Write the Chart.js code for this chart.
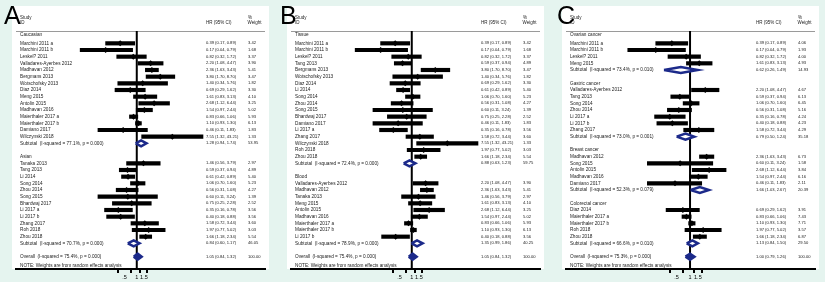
<!DOCTYPE html>
<html>
<head>
<meta charset="utf-8">
<script src="https://cdn.jsdelivr.net/npm/chart.js@4"></script>
<style>
  html, body { margin: 0; padding: 0; background: #e5f4ef; }
  body { width: 825px; height: 282px; position: relative; overflow: hidden;
         font-family: "Liberation Sans", Arial, sans-serif; }
  .panel { position: absolute; top: 0; width: 257px; height: 282px; }
  .tag { position: absolute; top: 0; font-size: 25px; line-height: 30px; color: #000; z-index: 2; }
</style>
</head>
<body>
<div class="panel" style="left:12px"><canvas id="forestA" width="257" height="282"></canvas></div>
<div class="panel" style="left:287px"><canvas id="forestB" width="257" height="282"></canvas></div>
<div class="panel" style="left:562px"><canvas id="forestC" width="257" height="282"></canvas></div>
<div class="tag" style="left:4px">A</div>
<div class="tag" style="left:280px">B</div>
<div class="tag" style="left:557px">C</div>

<script>
/* ---- data: A = by ethnicity, B = by sample, C = by cancer type ---- */
var aLabels = ['Caucasian', 'Marchini 2011 a', 'Marchini 2011 b', 'Leskel? 2011', 'Valladares-Ayerbes 2012',
  'Madhavan 2012', 'Bergmans 2013', 'Wotschofsky 2013', 'Diaz 2014', 'Meng 2015', 'Antolin 2015',
  'Madhavan 2016', 'Maierthaler 2017 a', 'Maierthaler 2017 b', 'Damiano 2017', 'Wilczynski 2018',
  'Subtotal  (I-squared = 77.1%, p = 0.000)', '', 'Asian', 'Tanaka 2013', 'Tang 2013', 'Li 2014',
  'Song 2014', 'Zhou 2014', 'Song 2015', 'Bhardwaj 2017', 'Li 2017 a', 'Li 2017 b', 'Zhang 2017',
  'Roh 2018', 'Zhou 2018', 'Subtotal  (I-squared = 70.7%, p = 0.000)', '',
  'Overall  (I-squared = 75.4%, p = 0.000)', 'NOTE: Weights are from random effects analysis'];
var aHR = [null, 0.39, 0.17, 0.82, 2.20, 2.36, 3.80, 1.40, 0.69, 1.61, 2.68, 1.54, 0.83, 1.10, 0.46, 7.55,
  1.28, null, null, 1.46, 0.59, 0.61, 1.06, 0.56, 0.60, 0.75, 0.35, 0.40, 1.58, 1.97, 1.66, 0.84, null, 1.05, null];
var aLow = [null, 0.17, 0.04, 0.32, 1.08, 1.63, 1.70, 0.34, 0.29, 0.83, 1.12, 0.97, 0.66, 0.93, 0.11, 1.32,
  0.94, null, null, 0.56, 0.37, 0.42, 0.70, 0.31, 0.11, 0.25, 0.16, 0.18, 0.72, 0.77, 1.18, 0.60, null, 0.84, null];
var aHigh = [null, 0.89, 0.79, 1.72, 4.47, 3.43, 8.70, 5.76, 1.62, 3.13, 6.44, 2.44, 1.06, 1.30, 1.83, 43.21,
  1.74, null, null, 3.79, 0.94, 0.89, 1.60, 1.08, 3.24, 2.28, 0.78, 0.88, 3.44, 5.02, 2.34, 1.17, null, 1.32, null];
var aWeight = [null, 3.42, 1.68, 3.37, 3.90, 5.41, 3.47, 1.82, 3.30, 4.10, 3.25, 5.02, 5.93, 6.13, 1.83, 1.33,
  53.95, null, null, 2.97, 4.89, 5.40, 5.23, 4.27, 1.39, 2.52, 3.56, 3.56, 3.60, 3.03, 5.54, 46.05, null, 100.00, null];

var bLabels = ['Tissue', 'Marchini 2011 a', 'Marchini 2011 b', 'Leskel? 2011', 'Tang 2013', 'Bergmans 2013',
  'Wotschofsky 2013', 'Diaz 2014', 'Li 2014', 'Song 2014', 'Zhou 2014', 'Song 2015', 'Bhardwaj 2017',
  'Damiano 2017', 'Li 2017 a', 'Zhang 2017', 'Wilczynski 2018', 'Roh 2018', 'Zhou 2018',
  'Subtotal  (I-squared = 72.4%, p = 0.000)', '', 'Blood', 'Valladares-Ayerbes 2012', 'Madhavan 2012',
  'Tanaka 2013', 'Meng 2015', 'Antolin 2015', 'Madhavan 2016', 'Maierthaler 2017 a', 'Maierthaler 2017 b',
  'Li 2017 b', 'Subtotal  (I-squared = 78.9%, p = 0.000)', '',
  'Overall  (I-squared = 75.4%, p = 0.000)', 'NOTE: Weights are from random effects analysis'];
var bHR = [null, 0.39, 0.17, 0.82, 0.59, 3.80, 1.40, 0.69, 0.61, 1.06, 0.56, 0.60, 0.75, 0.46, 0.35, 1.58, 7.55,
  1.97, 1.66, 0.88, null, null, 2.20, 2.36, 1.46, 1.61, 2.68, 1.54, 0.83, 1.10, 0.40, 1.35, null, 1.05, null];
var bLow = [null, 0.17, 0.04, 0.32, 0.37, 1.70, 0.34, 0.29, 0.42, 0.70, 0.31, 0.11, 0.25, 0.11, 0.16, 0.72, 1.32,
  0.77, 1.18, 0.63, null, null, 1.08, 1.63, 0.56, 0.83, 1.12, 0.97, 0.66, 0.93, 0.18, 0.99, null, 0.84, null];
var bHigh = [null, 0.89, 0.79, 1.72, 0.94, 8.70, 5.76, 1.62, 0.89, 1.60, 1.08, 3.24, 2.28, 1.83, 0.78, 3.44, 43.21,
  5.02, 2.34, 1.23, null, null, 4.47, 3.43, 3.79, 3.13, 6.44, 2.44, 1.06, 1.30, 0.88, 1.86, null, 1.32, null];
var bWeight = [null, 3.42, 1.68, 3.37, 4.89, 3.47, 1.82, 3.30, 5.40, 5.23, 4.27, 1.39, 2.52, 1.83, 3.56, 3.60, 1.33,
  3.03, 5.54, 59.75, null, null, 3.90, 5.41, 2.97, 4.10, 3.25, 5.02, 5.93, 6.13, 3.56, 40.25, null, 100.00, null];

var cLabels = ['Ovarian cancer', 'Marchini 2011 a', 'Marchini 2011 b', 'Leskel? 2011', 'Meng 2015',
  'Subtotal  (I-squared = 73.4%, p = 0.010)', '', 'Gastric cancer', 'Valladares-Ayerbes 2012', 'Tang 2013',
  'Song 2014', 'Zhou 2014', 'Li 2017 a', 'Li 2017 b', 'Zhang 2017', 'Subtotal  (I-squared = 73.0%, p = 0.001)', '',
  'Breast cancer', 'Madhavan 2012', 'Song 2015', 'Antolin 2015', 'Madhavan 2016', 'Damiano 2017',
  'Subtotal  (I-squared = 52.3%, p = 0.079)', '', 'Colorectal cancer', 'Diaz 2014', 'Maierthaler 2017 a',
  'Maierthaler 2017 b', 'Roh 2018', 'Zhou 2018', 'Subtotal  (I-squared = 66.6%, p = 0.010)', '',
  'Overall  (I-squared = 75.3%, p = 0.000)', 'NOTE: Weights are from random effects analysis'];
var cHR = [null, 0.39, 0.17, 0.82, 1.61, 0.62, null, null, 2.20, 0.59, 1.06, 0.56, 0.35, 0.40, 1.58, 0.79, null,
  null, 2.36, 0.60, 2.68, 1.54, 0.46, 1.66, null, null, 0.69, 0.83, 1.10, 1.97, 1.66, 1.13, null, 1.00, null];
var cLow = [null, 0.17, 0.04, 0.32, 0.83, 0.26, null, null, 1.08, 0.37, 0.70, 0.31, 0.16, 0.18, 0.72, 0.50, null,
  null, 1.63, 0.11, 1.12, 0.97, 0.11, 1.03, null, null, 0.29, 0.66, 0.93, 0.77, 1.18, 0.84, null, 0.79, null];
var cHigh = [null, 0.89, 0.79, 1.72, 3.13, 1.49, null, null, 4.47, 0.94, 1.60, 1.08, 0.78, 0.88, 3.44, 1.24, null,
  null, 3.43, 3.24, 6.44, 2.44, 1.83, 2.67, null, null, 1.62, 1.06, 1.30, 5.02, 2.34, 1.50, null, 1.26, null];
var cWeight = [null, 4.06, 1.93, 4.00, 4.93, 14.93, null, null, 4.67, 6.13, 6.45, 5.16, 4.24, 4.23, 4.29, 35.18, null,
  null, 6.73, 1.58, 3.84, 6.16, 2.11, 20.39, null, null, 3.91, 7.43, 7.71, 3.57, 6.87, 29.50, null, 100.00, null];

var xTicks = [0.5, 1, 1.5];
var xTickLabels = ['.5', '1', '1.5'];
var nullHR = 1;

(function() {
  var FONT = '"Liberation Sans", Arial, sans-serif';
  var NAVY = '#1c2a8a';
  var TEXT = '#222';
  var Y_MIN = -0.85, Y_MAX = 34.85;

  // white panel, top rule, null line, row labels, HR / weight columns
  function forestPlugin(labels, hr, low, high, weight) {
    return {
      id: 'forestText',
      beforeDraw: function(chart) {
        var ctx = chart.ctx, area = chart.chartArea;
        ctx.save();
        ctx.fillStyle = '#fff';
        ctx.fillRect(0, 6, chart.width, area.bottom - 6);
        ctx.strokeStyle = '#9a9a9a';
        ctx.lineWidth = 1;
        ctx.beginPath();
        ctx.moveTo(area.left, area.top + 0.5);
        ctx.lineTo(area.right, area.top + 0.5);
        ctx.stroke();
        ctx.restore();
      },
      beforeDatasetsDraw: function(chart) {
        var ctx = chart.ctx, area = chart.chartArea;
        var x = chart.scales.x.getPixelForValue(nullHR);
        ctx.save();
        ctx.strokeStyle = '#000';
        ctx.lineWidth = 2;
        ctx.beginPath();
        ctx.moveTo(x, area.top);
        ctx.lineTo(x, area.bottom);
        ctx.stroke();
        ctx.restore();
      },
      afterDatasetsDraw: function(chart) {
        var ctx = chart.ctx, area = chart.chartArea, ys = chart.scales.y;
        var xLab = area.left + 4, xHR = area.left + 190, xW = area.left + 232;
        ctx.save();
        ctx.fillStyle = TEXT;
        ctx.textBaseline = 'middle';
        ctx.font = '4.5px ' + FONT;
        ctx.fillText('Study', xLab, area.top - 13);
        ctx.fillText('ID', xLab, area.top - 8);
        ctx.fillText('%', xW, area.top - 13);
        ctx.fillText('Weight', xW - 0.5, area.top - 8);
        ctx.fillText('HR (95% CI)', xHR, area.top - 8);
        labels.forEach(function(lab, i) {
          if (!lab) return;
          var v = i === 0 ? -0.35 : (lab.indexOf('NOTE') === 0 ? i + 0.4 : i);
          var y = ys.getPixelForValue(v);
          ctx.font = '4.7px ' + FONT;
          ctx.fillText(lab, xLab, y);
          if (hr[i] != null) {
            ctx.font = '4.1px ' + FONT;
            ctx.fillText(hr[i].toFixed(2) + ' (' + low[i].toFixed(2) + ', ' + high[i].toFixed(2) + ')', xHR, y);
            ctx.fillText(weight[i].toFixed(2), xW, y);
          }
        });
        ctx.restore();
      }
    };
  }

  function makeForest(id, labels, hr, low, high, weight, xMin, xMax) {
    var el = document.getElementById(id);
    if (!el) return;
    var ciBars = [], points = [], datasets = [];

    labels.forEach(function(lab, i) {
      if (hr[i] == null) return;
      if (/^(Subtotal|Overall)/.test(lab)) {
        // pooled estimate: diamond from low to high
        datasets.push({
          type: 'line',
          data: [{ x: low[i], y: i }, { x: hr[i], y: i - 0.45 }, { x: high[i], y: i },
                 { x: hr[i], y: i + 0.45 }, { x: low[i], y: i }],
          borderColor: NAVY,
          borderWidth: 2.5,
          backgroundColor: lab.indexOf('Overall') === 0 ? NAVY : '#fff',
          fill: 'shape',
          pointRadius: 0,
          tension: 0,
          order: 1
        });
      } else {
        ciBars.push({ x: [low[i], high[i]], y: i });
        points.push({ x: hr[i], y: i });
      }
    });
    datasets.push({
      type: 'bar',
      indexAxis: 'y',
      data: ciBars,
      backgroundColor: '#000',
      borderWidth: 0,
      barThickness: 3.5,
      order: 3
    });
    datasets.push({
      type: 'scatter',
      data: points,
      pointStyle: 'rectRot',
      pointRadius: 3,
      backgroundColor: '#000',
      borderWidth: 0,
      order: 2
    });

    new Chart(el, {
      type: 'bar',
      data: { datasets: datasets },
      options: {
        responsive: false,
        animation: false,
        events: [],
        devicePixelRatio: 1,
        layout: { padding: { left: 1, right: 1, top: 31, bottom: 0 } },
        plugins: { legend: { display: false }, tooltip: { enabled: false } },
        scales: {
          x: {
            type: 'logarithmic',
            min: xMin,
            max: xMax,
            bounds: 'data',
            beginAtZero: false,
            afterBuildTicks: function(s) {
              s.ticks = xTicks.map(function(v) { return { value: v }; });
            },
            afterFit: function(s) { s.height = 13; },
            ticks: {
              autoSkip: false,
              maxRotation: 0,
              padding: 1,
              color: '#000',
              font: { family: FONT, size: 5.5 },
              callback: function(v, i) { return xTickLabels[i]; }
            },
            grid: {
              drawOnChartArea: false,
              lineWidth: 2,
              tickLength: 4,
              tickColor: '#000'
            },
            border: { display: true, color: '#000', width: 2 }
          },
          y: {
            type: 'linear',
            display: false,
            reverse: true,
            offset: false,
            min: Y_MIN,
            max: Y_MAX
          }
        }
      },
      plugins: [forestPlugin(labels, hr, low, high, weight)]
    });
  }

  makeForest('forestA', aLabels, aHR, aLow, aHigh, aWeight, 0.00104, 1470);
  makeForest('forestB', bLabels, bHR, bLow, bHigh, bWeight, 0.00104, 1470);
  makeForest('forestC', cLabels, cHR, cLow, cHigh, cWeight, 0.00164, 640);
})();
</script>
</body>
</html>
